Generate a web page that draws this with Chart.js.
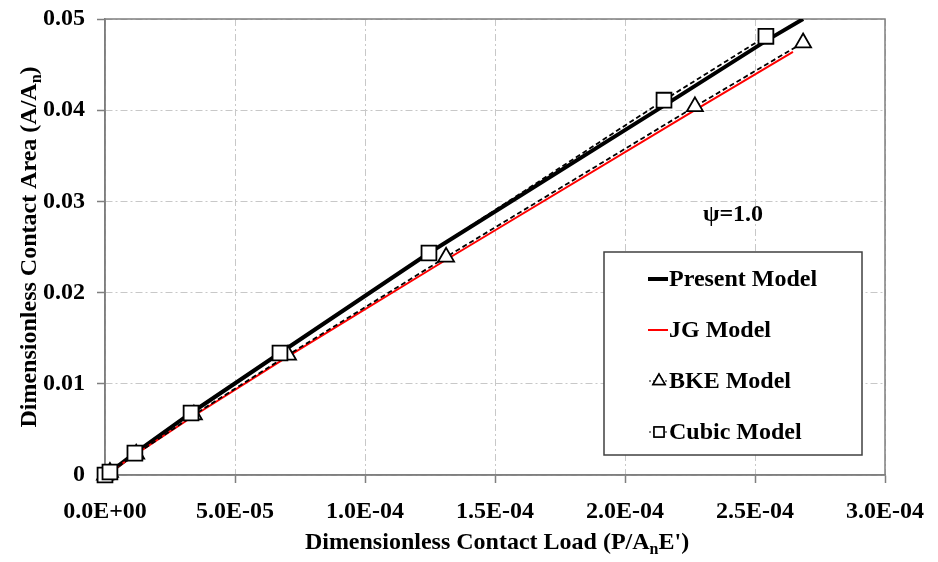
<!DOCTYPE html>
<html>
<head>
<meta charset="utf-8">
<script src="https://cdn.jsdelivr.net/npm/chart.js@4"></script>
<style>
    body { margin: 0; background: #fff; }
    #wrap { width: 938px; height: 562px; }
</style>
</head>
<body>
<div id="wrap"><canvas id="chart" width="938" height="562"></canvas></div>
<script>
// Contact area vs contact load, psi = 1.0

const presentLoad = [0, 1.9e-6, 1.15e-5, 3.31e-5, 6.73e-5, 1.246e-4, 2.15e-4, 2.542e-4, 2.685e-4];
const presentArea = [0, 0.00033, 0.0024, 0.0068, 0.01338, 0.02434, 0.0405, 0.0476, 0.0500];

const jgLoad = [0, 1.9e-6, 1.2e-5, 3.42e-5, 7.04e-5, 1.312e-4, 2.269e-4, 2.646e-4];
const jgArea = [0, 0.0003, 0.0023, 0.0065, 0.0130, 0.0236, 0.0400, 0.0464];

const bkeLoad = [0, 1.9e-6, 1.2e-5, 3.42e-5, 7.04e-5, 1.312e-4, 2.269e-4, 2.685e-4];
const bkeArea = [0, 0.0003, 0.0023, 0.0066, 0.01316, 0.0239, 0.0404, 0.0474];

const cubicLoad = [0, 1.9e-6, 1.15e-5, 3.31e-5, 6.73e-5, 1.246e-4, 2.15e-4, 2.542e-4];
const cubicArea = [0, 0.00033, 0.0024, 0.0068, 0.01338, 0.02434, 0.0411, 0.0481];

const xTickValues = [0, 5e-5, 1e-4, 1.5e-4, 2e-4, 2.5e-4, 3e-4];
const yTickValues = [0, 0.01, 0.02, 0.03, 0.04, 0.05];

const seriesNames = ["Present Model", "JG Model", "BKE Model", "Cubic Model"];
const annotationText = "ψ=1.0";

const FONT = "'Liberation Serif', 'Times New Roman', serif";

function toPoints(xs, ys) {
    return xs.map(function(x, i) { return { x: x, y: ys[i] }; });
}

// 0.0E+00 style
function formatSci(v) {
    if (Math.abs(v) < 1e-12) return "0.0E+00";
    var parts = v.toExponential(1).split("e");
    var exp = parseInt(parts[1], 10);
    var sign = exp < 0 ? "-" : "+";
    var abs = Math.abs(exp);
    return parts[0] + "E" + sign + (abs < 10 ? "0" : "") + abs;
}

// text with a subscript piece: [["A/A", false], ["n", true], [")", false]]
function drawPieces(ctx, pieces, x, y, size, align) {
    var total = 0;
    pieces.forEach(function(p) {
        ctx.font = "bold " + (p[1] ? Math.round(size * 0.65) : size) + "px " + FONT;
        total += ctx.measureText(p[0]).width;
    });
    var cx = align === "center" ? x - total / 2 : x;
    ctx.textAlign = "left";
    ctx.textBaseline = "middle";
    pieces.forEach(function(p) {
        ctx.font = "bold " + (p[1] ? Math.round(size * 0.65) : size) + "px " + FONT;
        ctx.fillText(p[0], cx, p[1] ? y + size * 0.3 : y);
        cx += ctx.measureText(p[0]).width;
    });
}

const framePlugin = {
    id: "frame",
    beforeDatasetsDraw: function(chart) {
        var a = chart.chartArea, ctx = chart.ctx;
        ctx.save();
        ctx.strokeStyle = "#7f7f7f";
        ctx.lineWidth = 1.5;
        ctx.strokeRect(a.left, a.top, a.right - a.left, a.bottom - a.top);
        ctx.restore();
    },
    afterDraw: function(chart) {
        var ctx = chart.ctx;
        var a = chart.chartArea;
        ctx.save();
        ctx.fillStyle = "#000";

        // axis titles
        drawPieces(ctx, [["Dimensionless Contact Load (P/A", false], ["n", true], ["E')", false]],
            (a.left + a.right) / 2 + 2, 543, 24, "center");
        ctx.save();
        ctx.translate(30, (a.top + a.bottom) / 2);
        ctx.rotate(-Math.PI / 2);
        drawPieces(ctx, [["Dimensionless Contact Area (A/A", false], ["n", true], [")", false]], 0, 0, 24, "center");
        ctx.restore();

        // psi label
        ctx.font = "bold 24px " + FONT;
        ctx.textAlign = "center";
        ctx.textBaseline = "middle";
        ctx.fillText(annotationText, 733, 215);

        // legend box
        var bx = 604, by = 252, bw = 258, bh = 203;
        ctx.fillStyle = "#fff";
        ctx.fillRect(bx, by, bw, bh);
        ctx.strokeStyle = "#404040";
        ctx.lineWidth = 1.5;
        ctx.strokeRect(bx, by, bw, bh);

        var rowY = [279, 330, 381, 432];
        chart.data.datasets.forEach(function(ds, i) {
            var y = rowY[i];
            ctx.save();
            ctx.strokeStyle = ds.borderColor;
            if (ds.pointRadius > 0) {
                ctx.lineWidth = 1.2;
                ctx.setLineDash([2, 2]);
                ctx.beginPath();
                ctx.moveTo(649, y); ctx.lineTo(668, y);
                ctx.stroke();
                ctx.setLineDash([]);
                ctx.lineWidth = 1.5;
                ctx.fillStyle = "#fff";
                Chart.helpers.drawPoint(ctx, {
                    pointStyle: ds.pointStyle, radius: 7, rotation: 0, borderWidth: 1.5
                }, 659, y);
                ctx.fill();
                ctx.stroke();
            } else {
                ctx.lineWidth = ds.borderWidth;
                ctx.beginPath();
                ctx.moveTo(648, y); ctx.lineTo(668, y);
                ctx.stroke();
            }
            ctx.restore();
            ctx.fillStyle = "#000";
            ctx.font = "bold 24px " + FONT;
            ctx.textAlign = "left";
            ctx.textBaseline = "middle";
            ctx.fillText(ds.label, 669, y + 1);
        });
        ctx.restore();
    }
};

const gridStyle = {
    color: "#c8c8c8",
    lineWidth: 1,
    drawTicks: true,
    tickLength: 8,
    tickColor: "#7f7f7f",
    tickWidth: 1.5,
    tickBorderDash: [],
};

const borderStyle = { display: true, color: "#7f7f7f", width: 1.5, dash: [7, 3, 2, 3] };

new Chart(document.getElementById("chart").getContext("2d"), {
    type: "scatter",
    data: {
        datasets: [
            {
                label: seriesNames[0],
                data: toPoints(presentLoad, presentArea),
                showLine: true,
                borderColor: "#000",
                borderWidth: 4,
                pointRadius: 0,
                order: 4,
            },
            {
                label: seriesNames[1],
                data: toPoints(jgLoad, jgArea),
                showLine: true,
                borderColor: "#ff0000",
                borderWidth: 2,
                pointRadius: 0,
                order: 3,
            },
            {
                label: seriesNames[2],
                data: toPoints(bkeLoad, bkeArea),
                showLine: true,
                borderColor: "#000",
                borderWidth: 1.8,
                borderDash: [5, 3],
                pointStyle: "triangle",
                pointRadius: 9.2,
                pointBorderWidth: 1.8,
                pointBackgroundColor: "#fff",
                pointBorderColor: "#000",
                clip: false,
                order: 2,
            },
            {
                label: seriesNames[3],
                data: toPoints(cubicLoad, cubicArea),
                showLine: true,
                borderColor: "#000",
                borderWidth: 1.8,
                borderDash: [5, 3],
                pointStyle: "rect",
                pointRadius: 10.5,
                pointBorderWidth: 1.8,
                pointBackgroundColor: "#fff",
                pointBorderColor: "#000",
                clip: false,
                order: 1,
            },
        ],
    },
    options: {
        responsive: false,
        devicePixelRatio: 1,
        animation: false,
        layout: { padding: { left: 0, right: 53, top: 19, bottom: 0 } },
        plugins: {
            legend: { display: false },
            tooltip: { enabled: false },
        },
        scales: {
            x: {
                type: "linear",
                min: 0,
                max: 3e-4,
                afterBuildTicks: function(scale) {
                    scale.ticks = xTickValues.map(function(v) { return { value: v }; });
                },
                afterFit: function(scale) {
                    scale.height = 87;
                    scale.paddingLeft = 0;
                    scale.paddingRight = 0;
                },
                ticks: {
                    color: "#000",
                    padding: 14,
                    maxRotation: 0,
                    font: { family: FONT, size: 24, weight: "bold" },
                    callback: function(v) { return formatSci(v); },
                },
                grid: gridStyle,
                border: borderStyle,
            },
            y: {
                type: "linear",
                min: 0,
                max: 0.05,
                afterBuildTicks: function(scale) {
                    scale.ticks = yTickValues.map(function(v) { return { value: v }; });
                },
                afterFit: function(scale) {
                    scale.width = 105;
                    scale.paddingTop = 0;
                    scale.paddingBottom = 0;
                },
                ticks: {
                    color: "#000",
                    padding: 12,
                    font: { family: FONT, size: 24, weight: "bold" },
                    callback: function(v) { return Math.abs(v) < 1e-9 ? "0" : v.toFixed(2); },
                },
                grid: gridStyle,
                border: borderStyle,
            },
        },
    },
    plugins: [framePlugin],
});
</script>
</body>
</html>
